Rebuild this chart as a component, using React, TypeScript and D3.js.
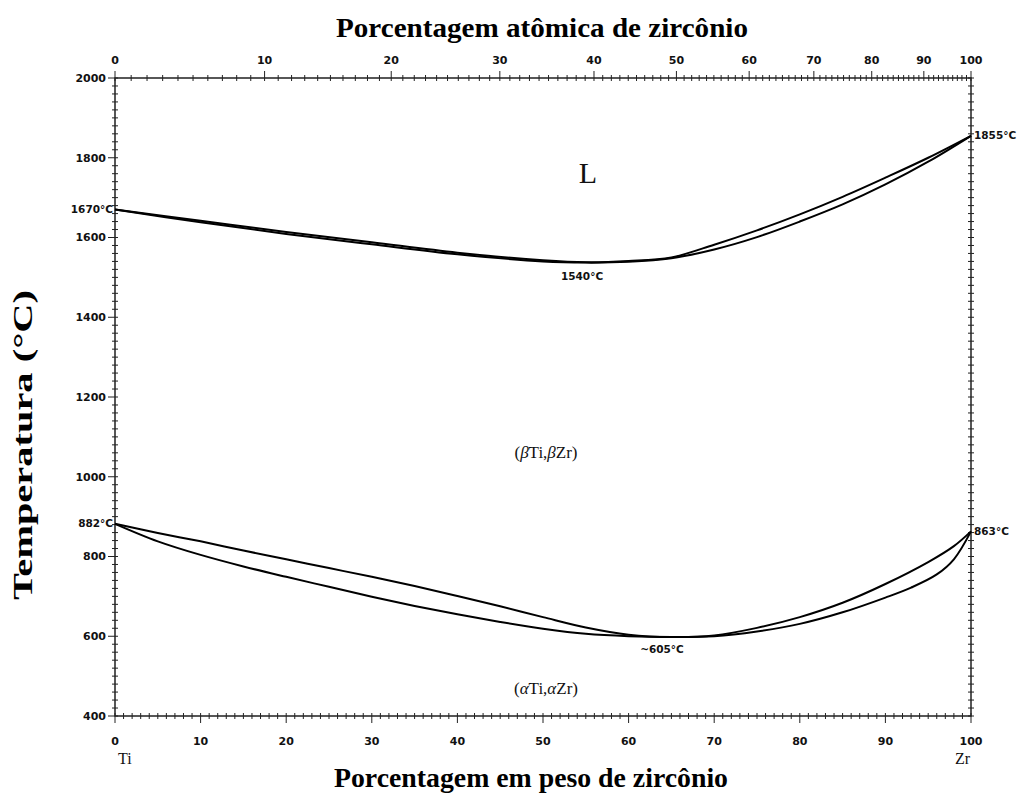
import React from "react";
import * as d3 from "d3";

// ---- data ----
const wtTicks = [0, 10, 20, 30, 40, 50, 60, 70, 80, 90, 100];
const atTicks = [0, 10, 20, 30, 40, 50, 60, 70, 80, 90, 100];
const tempTicks = [400, 600, 800, 1000, 1200, 1400, 1600, 1800, 2000];

// liquidus (upper of the top pair)
const liqWt = [0, 10, 20, 30, 40, 50, 55, 60, 65, 70, 75, 80, 85, 90, 95, 100];
const liqT = [1670, 1642, 1614, 1588, 1562, 1543, 1538, 1541, 1550, 1582, 1618, 1658, 1702, 1750, 1800, 1855];
// solidus
const solWt = [0, 10, 20, 30, 40, 50, 55, 60, 65, 70, 75, 80, 85, 90, 95, 100];
const solT = [1670, 1638, 1609, 1583, 1558, 1540, 1537, 1539, 1548, 1570, 1601, 1640, 1683, 1733, 1790, 1855];
// beta transus upper
const btUWt = [0, 5, 10, 15, 20, 25, 30, 35, 40, 45, 50, 55, 60, 65, 70, 75, 80, 85, 90, 95, 98, 100];
const btUT = [882, 859, 838, 815, 793, 771, 749, 726, 701, 675, 648, 622, 604, 598, 602, 621, 648, 684, 731, 786, 826, 863];
// beta transus lower
const btLWt = [0, 5, 10, 15, 20, 25, 30, 35, 40, 45, 50, 55, 60, 65, 70, 75, 80, 85, 90, 93, 96, 98, 100];
const btLT = [882, 838, 804, 775, 749, 724, 699, 676, 655, 636, 619, 606, 600, 598, 600, 612, 631, 660, 697, 722, 755, 793, 863];

const M_TI = 47.867;
const M_ZR = 91.224;
const atToWt = (a: number) => (a <= 0 ? 0 : a >= 100 ? 100 : (100 * a * M_ZR) / (a * M_ZR + (100 - a) * M_TI));

const L = 115, R = 971, T = 78, B = 716;

export default function App() {
  const x = d3.scaleLinear().domain([0, 100]).range([L, R]);
  const y = d3.scaleLinear().domain([400, 2000]).range([B, T]);
  const line = d3
    .line<[number, number]>()
    .x((d) => x(d[0]))
    .y((d) => y(d[1]))
    .curve(d3.curveCatmullRom.alpha(0.5));
  const mk = (ws: number[], ts: number[]) => line(ws.map((w, i) => [w, ts[i]] as [number, number])) || "";

  const minorWt = d3.range(0, 101, 1);
  const minorAt = d3.range(0, 101, 1);
  const minorT = d3.range(400, 2001, 20);

  const tickFont = { fontFamily: "DejaVu Sans, sans-serif", fontSize: 11, fill: "#111", fontWeight: "bold" } as const;
  const serif = "Liberation Serif, Times New Roman, serif";

  return (
    <svg width={1032} height={796} style={{ position: "absolute", left: 0, top: 0, background: "#fff" }}>
      <rect x={0} y={0} width={1032} height={796} fill="#fff" />
      {/* frame */}
      <rect x={L} y={T} width={R - L} height={B - T} fill="none" stroke="#111" strokeWidth={1.4} />
      {/* minor ticks bottom & top */}
      {minorWt.map((w) => (
        <line key={"bw" + w} x1={x(w)} x2={x(w)} y1={B - 3} y2={B + (w % 10 === 0 ? 7 : 3)} stroke="#222" strokeWidth={1} />
      ))}
      {minorAt.map((a) => (
        <line key={"ta" + a} x1={x(atToWt(a))} x2={x(atToWt(a))} y1={T - (a % 10 === 0 ? 7 : 3)} y2={T + 3} stroke="#222" strokeWidth={1} />
      ))}
      {minorT.map((t) => (
        <g key={"lt" + t}>
          <line x1={L - (t % 200 === 0 ? 7 : 3)} x2={L + 3} y1={y(t)} y2={y(t)} stroke="#222" strokeWidth={1} />
          <line x1={R - 3} x2={R + 3} y1={y(t)} y2={y(t)} stroke="#222" strokeWidth={1} />
        </g>
      ))}
      {/* tick labels */}
      {tempTicks.map((t) => (
        <text key={"tl" + t} x={L - 9} y={y(t)} dy="0.35em" textAnchor="end" {...tickFont}>
          {t}
        </text>
      ))}
      {wtTicks.map((w) => (
        <text key={"wl" + w} x={x(w)} y={741} dy="0.35em" textAnchor="middle" {...tickFont}>
          {w}
        </text>
      ))}
      {atTicks.map((a) => (
        <text key={"al" + a} x={x(atToWt(a))} y={60} dy="0.35em" textAnchor="middle" {...tickFont}>
          {a}
        </text>
      ))}
      {/* curves */}
      <g fill="none" stroke="#000" strokeWidth={2} strokeLinejoin="round">
        <path d={mk(liqWt, liqT)} />
        <path d={mk(solWt, solT)} />
        <path d={mk(btUWt, btUT)} />
        <path d={mk(btLWt, btLT)} />
      </g>
      {/* annotations */}
      <text x={L - 2} y={y(1670)} dy="0.35em" textAnchor="end" {...tickFont} fontSize={10.5}>1670°C</text>
      <text x={L - 2} y={y(882)} dy="0.35em" textAnchor="end" {...tickFont} fontSize={10.5}>882°C</text>
      <text x={R + 3} y={y(1855)} dy="0.35em" textAnchor="start" {...tickFont} fontSize={10.5}>1855°C</text>
      <text x={R + 3} y={y(863)} dy="0.35em" textAnchor="start" {...tickFont} fontSize={10.5}>863°C</text>
      <text x={582} y={276} dy="0.35em" textAnchor="middle" {...tickFont} fontSize={10.5}>1540°C</text>
      <text x={662} y={649} dy="0.35em" textAnchor="middle" {...tickFont} fontSize={10.5}>~605°C</text>

      <text x={588} y={172} dy="0.35em" textAnchor="middle" fontFamily={serif} fontSize={30} fill="#111">L</text>
      <text x={546} y={452} dy="0.35em" textAnchor="middle" fontFamily={serif} fontSize={17} fill="#111">
        (<tspan fontStyle="italic">β</tspan>Ti,<tspan fontStyle="italic">β</tspan>Zr)
      </text>
      <text x={546} y={688} dy="0.35em" textAnchor="middle" fontFamily={serif} fontSize={17} fill="#111">
        (<tspan fontStyle="italic">α</tspan>Ti,<tspan fontStyle="italic">α</tspan>Zr)
      </text>
      <text x={118} y={758} dy="0.35em" textAnchor="start" fontFamily={serif} fontSize={16} fill="#111">Ti</text>
      <text x={970} y={758} dy="0.35em" textAnchor="end" fontFamily={serif} fontSize={16} fill="#111">Zr</text>

      {/* titles */}
      <text x={542} y={28} dy="0.35em" textAnchor="middle" fontFamily={serif} fontWeight="bold" fontSize={27} fill="#000" textLength={412} lengthAdjust="spacingAndGlyphs">
        Porcentagem atômica de zircônio
      </text>
      <text x={531} y={778} dy="0.35em" textAnchor="middle" fontFamily={serif} fontWeight="bold" fontSize={27} fill="#000" textLength={394} lengthAdjust="spacingAndGlyphs">
        Porcentagem em peso de zircônio
      </text>
      <text transform="translate(23,445) rotate(-90)" dy="0.35em" textAnchor="middle" fontFamily={serif} fontWeight="bold" fontSize={27} fill="#000" textLength={310} lengthAdjust="spacingAndGlyphs">
        Temperatura (°C)
      </text>
    </svg>
  );
}
